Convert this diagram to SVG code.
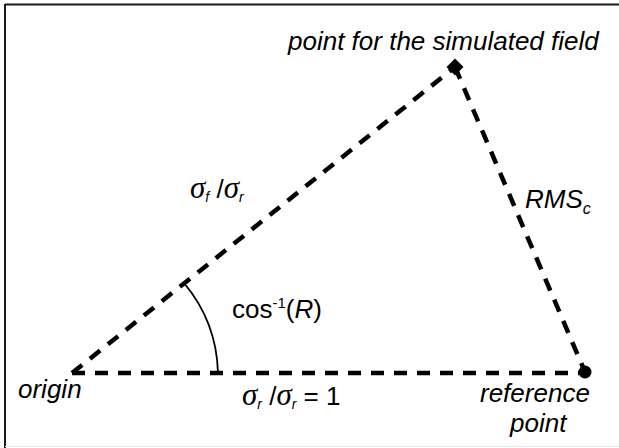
<svg xmlns="http://www.w3.org/2000/svg" width="619" height="448" viewBox="0 0 619 448">
<style>
.t{font-family:"Liberation Sans",Arial,sans-serif;font-size:26px;fill:#000}
.i{font-style:italic}
.g{font-family:"Liberation Serif","Times New Roman",serif;font-style:italic;font-size:31px}
.s{font-style:italic;font-size:14px}
.dash{stroke:#000;stroke-width:4.5;stroke-dasharray:13 10;fill:none}
</style>
<rect width="619" height="448" fill="#fff"/>
<g id="frame">
<line x1="5" y1="4.5" x2="619" y2="4.5" stroke="#1a1a1a" stroke-width="2"/>
<line x1="5" y1="4" x2="5" y2="448" stroke="#1a1a1a" stroke-width="2"/>
<line x1="5" y1="446.5" x2="619" y2="446.5" stroke="#e8e8e8" stroke-width="1"/>
</g>
<g id="connectors">
<line class="dash" x1="72" y1="373" x2="455" y2="67"/>
<line class="dash" x1="455" y1="67" x2="585" y2="372"/>
<line class="dash" x1="72" y1="373" x2="585" y2="373"/>
<path d="M218 373 A146 146 0 0 0 184 283" fill="none" stroke="#000" stroke-width="1.8"/>
</g>
<g id="origin">
<text class="t i" x="18" y="398">origin</text>
</g>
<g id="simulated">
<rect x="449" y="61" width="12" height="12" transform="rotate(45 455 67)" fill="#000"/>
<text class="t i" x="288" y="50" font-size="25.5">point for the simulated field</text>
</g>
<g id="reference">
<circle cx="585" cy="372" r="6.5" fill="#000"/>
<text class="t i" x="480" y="402">reference</text>
<text class="t i" x="510" y="432">point</text>
</g>
<g id="labels">
<text class="t" x="190" y="198"><tspan class="g">σ</tspan><tspan class="s" dy="4">f</tspan><tspan dy="-4"> /</tspan><tspan class="g">σ</tspan><tspan class="s" dy="4">r</tspan></text>
<text class="t i" x="525" y="208" font-size="27">RMS<tspan font-size="16" dy="6">c</tspan></text>
<text class="t" x="232" y="318">cos<tspan font-size="15" dy="-10">-1</tspan><tspan dy="10">(</tspan><tspan class="i">R</tspan>)</text>
<text class="t" x="242" y="405"><tspan class="g">σ</tspan><tspan class="s" dy="4">r</tspan><tspan dy="-4"> /</tspan><tspan class="g">σ</tspan><tspan class="s" dy="4">r</tspan><tspan dy="-4"> = 1</tspan></text>
</g>
</svg>
